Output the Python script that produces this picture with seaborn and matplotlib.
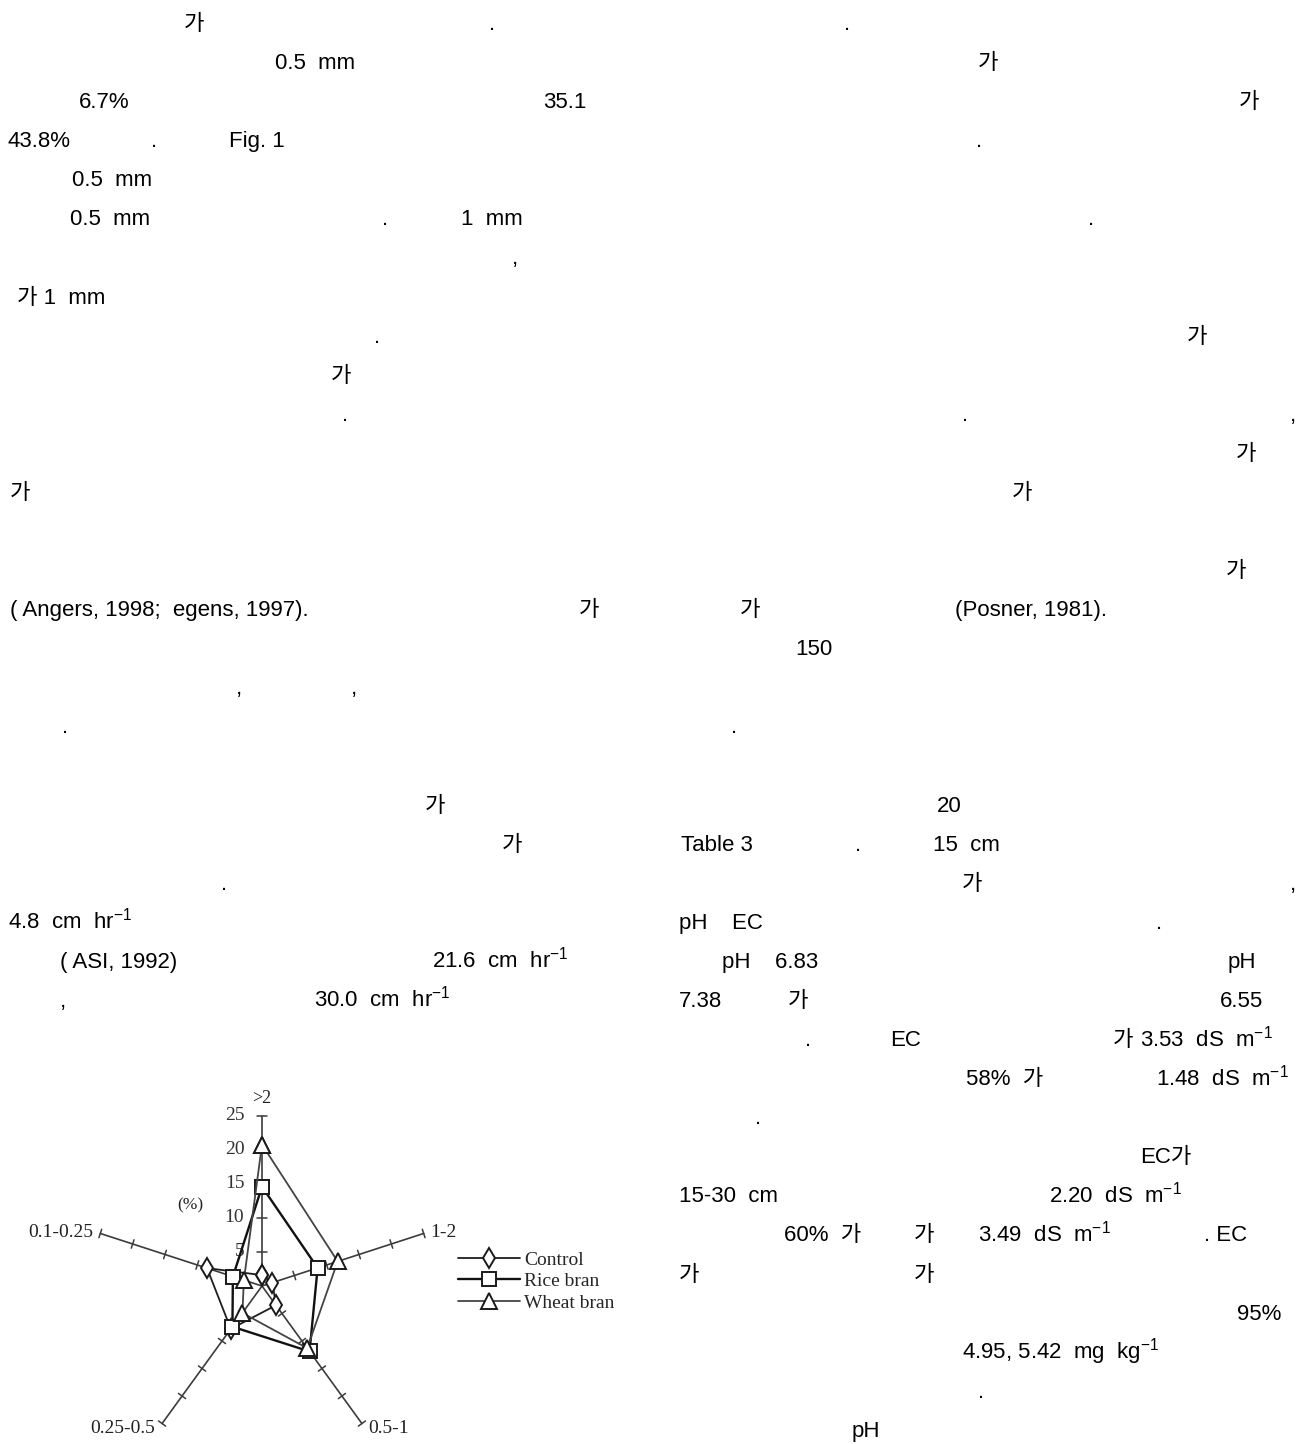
import numpy as np
import pandas as pd
import matplotlib
matplotlib.use('Agg')
import matplotlib.pyplot as plt
import seaborn as sns

# Aggregate size distribution (%), radar order: top then clockwise
size_classes = ['>2', '1-2', '0.5-1', '0.25-0.5', '0.1-0.25']
control = [1.6, 1.6, 3.5, 7.8, 8.5]
rice_bran = [14.6, 8.6, 11.9, 7.4, 4.5]
wheat_bran = [20.8, 11.7, 11.3, 4.9, 2.8]
series_names = ['Control', 'Rice bran', 'Wheat bran']
radial_ticks = [5, 10, 15, 20, 25]

# surrounding page text: (line number, x pixel, text)
page_text = [
    (0, 184, '가'), (0, 489, '.'), (0, 844, '.'),
    (1, 275, '0.5  mm'), (1, 978, '가'),
    (2, 79, '6.7%'), (2, 543, '35.1'), (2, 1239, '가'),
    (3, 8, '43.8%'), (3, 151, '.'), (3, 229, 'Fig. 1'), (3, 976, '.'),
    (4, 72, '0.5  mm'),
    (5, 70, '0.5  mm'), (5, 382, '.'), (5, 461, '1  mm'), (5, 1088, '.'),
    (6, 512, ','),
    (7, 17, '가 1  mm'),
    (8, 374, '.'), (8, 1187, '가'),
    (9, 331, '가'),
    (10, 342, '.'), (10, 962, '.'), (10, 1290, ','),
    (11, 1236, '가'),
    (12, 10, '가'), (12, 1012, '가'),
    (14, 1226, '가'),
    (15, 10, '( Angers, 1998;  egens, 1997).'), (15, 579, '가'),
    (15, 740, '가'), (15, 955, '(Posner, 1981).'),
    (16, 795, '150'),
    (17, 236, ','), (17, 351, ','),
    (18, 62, '.'), (18, 731, '.'),
    (20, 425, '가'), (20, 937, '20'),
    (21, 502, '가'), (21, 681, 'Table 3'), (21, 855, '.'), (21, 933, '15  cm'),
    (22, 221, '.'), (22, 962, '가'), (22, 1290, ','),
    (23, 8, '4.8  cm  hr$^{-1}$'), (23, 679, 'pH    EC'), (23, 1156, '.'),
    (24, 60, '( ASI, 1992)'), (24, 432, '21.6  cm  hr$^{-1}$'),
    (24, 722, 'pH    6.83'), (24, 1228, 'pH'),
    (25, 60, ','), (25, 314, '30.0  cm  hr$^{-1}$'),
    (25, 679, '7.38'), (25, 788, '가'), (25, 1220, '6.55'),
    (26, 805, '.'), (26, 890, 'EC'), (26, 1113, '가'), (26, 1140, '3.53  dS  m$^{-1}$'),
    (27, 966, '58%  가'), (27, 1156, '1.48  dS  m$^{-1}$'),
    (28, 755, '.'),
    (29, 1140, 'EC가'),
    (30, 679, '15-30  cm'), (30, 1049, '2.20  dS  m$^{-1}$'),
    (31, 784, '60%  가'), (31, 914, '가'), (31, 978, '3.49  dS  m$^{-1}$'), (31, 1204, '. EC'),
    (32, 679, '가'), (32, 914, '가'),
    (33, 1237, '95%'),
    (34, 962, '4.95, 5.42  mg  kg$^{-1}$'),
    (35, 978, '.'),
    (36, 852, 'pH'),
]

sns.set_style('white')
plt.rcParams['font.family'] = ['Liberation Sans', 'Noto Sans CJK KR', 'DejaVu Sans']
plt.rcParams['mathtext.fontset'] = 'custom'
plt.rcParams['mathtext.rm'] = 'Liberation Sans'
plt.rcParams['mathtext.it'] = 'Liberation Sans:italic'
plt.rcParams['mathtext.bf'] = 'Liberation Sans:bold'

W, H = 1299, 1444
fig = plt.figure(figsize=(W / 100, H / 100), dpi=100)
fig.patch.set_facecolor('white')

# page text
line0, pitch = 22, 39.08
for row, x, s in page_text:
    yb = line0 + row * pitch + 8
    fig.text(x / W, 1 - yb / H, s, ha='left', va='baseline', fontsize=16,
             color='black', family=['Liberation Sans', 'Noto Sans CJK KR'])

# radar chart: one full-page axes, 1 unit (%) = 6.8 px, origin at (262, 1286)
scale, ox, oy = 6.8, 262, 1286
ax = fig.add_axes([0, 0, 1, 1])
ax.set_xlim(-ox / scale, (W - ox) / scale)
ax.set_ylim(-(H - oy) / scale, oy / scale)
ax.axis('off')

angles = np.deg2rad(90 - 72 * np.arange(len(size_classes)))
rmax = radial_ticks[-1]
serif = 'Liberation Serif'
axis_col = '#3c3c3c'

for i, th in enumerate(angles):
    c, s = np.cos(th), np.sin(th)
    ax.plot([0, rmax * c], [0, rmax * s], color=axis_col, lw=1.2, zorder=1)
    px, py = -s, c
    for v in radial_ticks:
        half = 0.8 if i == 0 else 0.65
        ax.plot([v * c - half * px, v * c + half * px],
                [v * s - half * py, v * s + half * py],
                color=axis_col, lw=1.1, zorder=1)
    ex, ey = rmax * c, rmax * s
    if i == 0:
        ax.text(ex, ey + 2.6, size_classes[i], ha='center', va='center',
                fontsize=13, family=serif, color='#222222')
    elif c > 0:
        ax.text(ex + 1.0, ey - (0.7 if s < 0 else -0.1), size_classes[i],
                ha='left', va='center', fontsize=14, family=serif, color='#222222')
    else:
        ax.text(ex - 1.0, ey - (0.7 if s < 0 else -0.1), size_classes[i],
                ha='right', va='center', fontsize=14, family=serif, color='#222222')

for v in radial_ticks:
    ax.text(-2.6, v, str(v), ha='right', va='center', fontsize=14,
            family=serif, color='#333333')
ax.text(-10.6, 11.9, '(%)', ha='center', va='center', fontsize=12.5,
        family=serif, color='#222222')

# series polygons (closed)
rows = []
for name, vals in zip(series_names, [control, rice_bran, wheat_bran]):
    for k in range(len(size_classes) + 1):
        i = k % len(size_classes)
        rows.append({'series': name, 'step': k, 'size': size_classes[i],
                     'x': vals[i] * np.cos(angles[i]),
                     'y': vals[i] * np.sin(angles[i])})
df = pd.DataFrame(rows)

n0 = len(ax.lines)
sns.lineplot(data=df, x='x', y='y', hue='series', style='series',
             hue_order=series_names, style_order=series_names,
             palette={'Control': '#1e1e1e', 'Rice bran': '#111111', 'Wheat bran': '#444444'},
             markers={'Control': 'd', 'Rice bran': 's', 'Wheat bran': '^'},
             dashes=False, estimator=None, sort=False, legend=False, ax=ax,
             markerfacecolor='white', markeredgewidth=1.4, zorder=3)
series_lines = ax.lines[n0:]
for line, ms, lw in zip(series_lines, [10, 10.5, 11], [1.3, 1.7, 1.3]):
    line.set_markersize(ms)
    line.set_linewidth(lw)
    line.set_markeredgecolor('#1a1a1a')
ax.set_xlim(-ox / scale, (W - ox) / scale)
ax.set_ylim(-(H - oy) / scale, oy / scale)

ax.legend(series_lines, series_names, loc='upper left',
          bbox_to_anchor=(458 / W, 1 - 1251 / H), bbox_transform=fig.transFigure,
          frameon=False, handlelength=3.2, handletextpad=0.2, labelspacing=0.2,
          borderpad=0, borderaxespad=0, numpoints=1,
          prop={'family': serif, 'size': 14})

fig.savefig('out.png', dpi=100, facecolor='white')
